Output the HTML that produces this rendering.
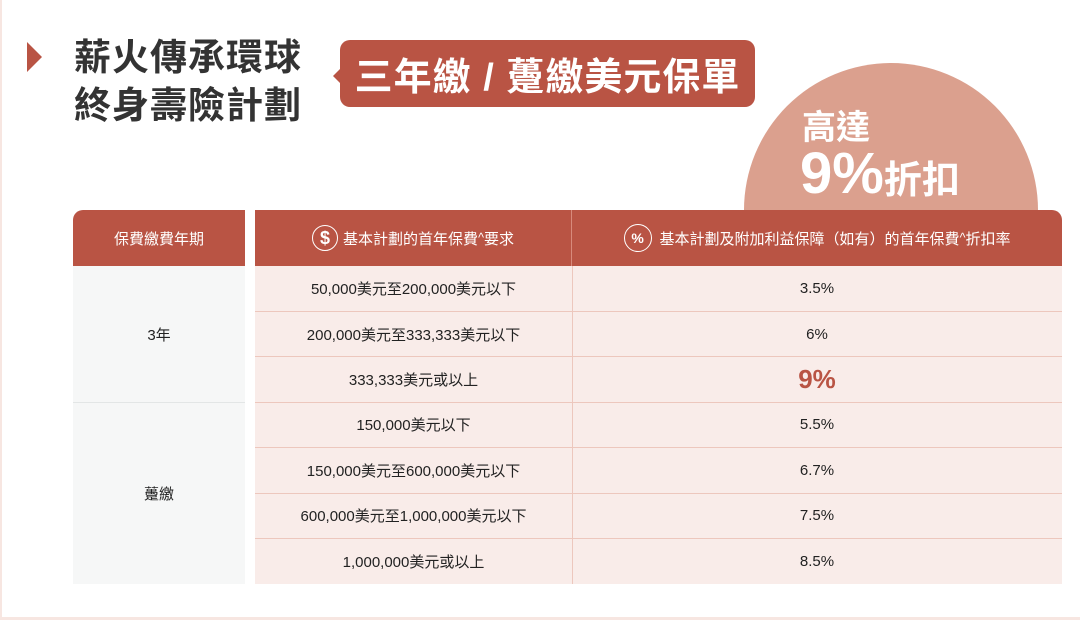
<!DOCTYPE html>
<html><head><meta charset="utf-8"><style>
body{margin:0;width:1080px;height:620px;background:#fff;position:relative;overflow:hidden;font-family:"Liberation Sans","Noto Sans CJK TC",sans-serif;}
.abs{position:absolute}
.cell{position:absolute;display:flex;align-items:center;justify-content:center;font-size:15px;color:#222;box-sizing:border-box}
</style></head><body>
<div class="abs" style="left:0;top:0;width:2px;height:620px;background:#f7e6e1"></div>
<div class="abs" style="left:0;top:617px;width:1080px;height:3px;background:#f7e6e1"></div>
<div class="abs" style="left:27px;top:42px;width:0;height:0;border-top:15px solid transparent;border-bottom:15px solid transparent;border-left:15px solid #b95444"></div>
<div class="abs" style="left:74px;top:34px;font-size:37px;font-weight:bold;color:#333;line-height:48px;letter-spacing:1px">薪火傳承環球<br>終身壽險計劃</div>
<div class="abs" style="left:333px;top:67px;width:0;height:0;border-top:9px solid transparent;border-bottom:9px solid transparent;border-right:9px solid #b95444"></div>
<div class="abs" style="left:340px;top:40px;width:415px;height:67px;background:#b95444;border-radius:10px;color:#fff;font-size:38px;font-weight:bold;display:flex;align-items:center;justify-content:center;letter-spacing:1px">三年繳 / 躉繳美元保單</div>
<div class="abs" style="left:744px;top:63px;width:294px;height:294px;border-radius:50%;background:#dba08e"></div>
<div class="abs" style="left:802px;top:100px;font-size:34px;font-weight:bold;color:#fff">高達</div>
<div class="abs" style="left:800px;top:140px;color:#fff;font-weight:bold;white-space:nowrap"><span style="font-size:58px">9%</span><span style="font-size:38px">折扣</span></div>
<div class="cell" style="left:73px;top:210px;width:172px;height:56px;background:#b95444;color:#fff;border-radius:10px 0 0 0">保費繳費年期</div>
<div class="cell" style="left:255px;top:210px;width:317px;height:56px;background:#b95444;color:#fff;border-right:1px solid #d88a7c"><span style="display:inline-flex;width:26px;height:26px;border:1.5px solid #fff;border-radius:50%;align-items:center;justify-content:center;font-weight:bold;font-size:18px;margin-right:5px;box-sizing:border-box">$</span>基本計劃的首年保費<sup>^</sup>要求</div>
<div class="cell" style="left:572px;top:210px;width:490px;height:56px;background:#b95444;color:#fff;border-radius:0 10px 0 0"><span style="display:inline-flex;width:28px;height:28px;border:1.5px solid #fff;border-radius:50%;align-items:center;justify-content:center;font-weight:bold;font-size:14px;margin-right:8px;box-sizing:border-box">%</span>基本計劃及附加利益保障（如有）的首年保費<sup>^</sup>折扣率</div>
<div class="cell" style="left:73px;top:266px;width:172px;height:137px;background:#f6f7f7;border-bottom:1px solid #e3e6e6">3年</div>
<div class="cell" style="left:73px;top:403px;width:172px;height:181px;background:#f6f7f7">躉繳</div>
<div class="abs" style="left:255px;top:266px;width:807px;height:318px;background:#f9ece9"></div>
<div class="abs" style="left:572px;top:266px;width:1px;height:318px;background:#edc7bd"></div>
<div id="rows"></div>
<script>
var d=[["50,000美元至200,000美元以下","3.5%"],["200,000美元至333,333美元以下","6%"],["333,333美元或以上","9%"],["150,000美元以下","5.5%"],["150,000美元至600,000美元以下","6.7%"],["600,000美元至1,000,000美元以下","7.5%"],["1,000,000美元或以上","8.5%"]];
var h="";for(var i=0;i<7;i++){var t=266+i*45.4;
h+='<div class="cell" style="left:255px;top:'+t+'px;width:317px;height:45.4px">'+d[i][0]+'</div>';
var s=i==2?'font-size:26px;font-weight:bold;color:#b95444':'';
h+='<div class="cell" style="left:572px;top:'+t+'px;width:490px;height:45.4px;'+s+'">'+d[i][1]+'</div>';
if(i<6)h+='<div class="abs" style="left:255px;top:'+(t+45)+'px;width:807px;height:1px;background:#edc7bd"></div>';}
document.getElementById("rows").innerHTML=h;
</script>
</body></html>
